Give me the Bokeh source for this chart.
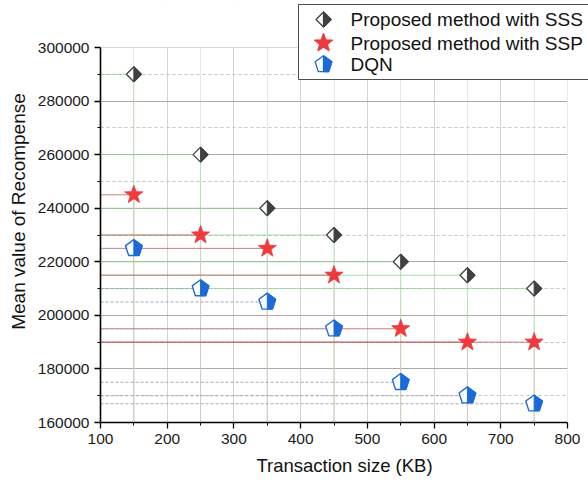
import math
from bokeh.plotting import figure
from bokeh.models import (Range1d, SingleIntervalTicker, NumeralTickFormatter,
                          BoxAnnotation, Label, PolyAnnotation)
from bokeh.embed import file_html
from bokeh.resources import INLINE

# ---------------- data ----------------
sizes_kb = [150, 250, 350, 450, 550, 650, 750]
sss = [290000, 260000, 240000, 230000, 220000, 215000, 210000]
ssp = [245000, 230000, 225000, 215000, 195000, 190000, 190000]
dqn = [225000, 210000, 205000, 195000, 175000, 170000, 167000]
series_labels = ["Proposed method with SSS", "Proposed method with SSP", "DQN"]
x_label = "Transaction size (KB)"
y_label = "Mean value of Recompense"

X0, X1 = 100, 800
Y0, Y1 = 160000, 300000
AXW, AXH = 467, 375            # pixel length of the drawn axes
PX_X = (X1 - X0) / AXW         # data units per pixel
PX_Y = (Y1 - Y0) / AXH
EXTRA_R, EXTRA_T = 21, 47      # frame extends beyond the axes (room for the legend)
FW, FH = AXW + EXTRA_R, AXH + EXTRA_T

FONT = "Liberation Sans"
GRAY = "#404040"
RED = "#ee3a3d"
BLUE = "#1c6ad8"

# marker shapes in pixels (y up)
def diamond(hw=7.5, hh=7.5):
    return [(0, hh), (hw, 0), (0, -hh), (-hw, 0)], [(0, hh), (hw, 0), (0, -hh)]

def pentagon(R=8.8):
    pts = [(R * math.cos(math.radians(90 - 72 * k)), R * math.sin(math.radians(90 - 72 * k))) for k in range(5)]
    right = [pts[0], pts[1], pts[2], (0, pts[2][1])]
    return pts, right

def star(R=9.6, r=3.9):
    pts = []
    for k in range(10):
        rad = R if k % 2 == 0 else r
        a = math.radians(90 - 36 * k)
        pts.append((rad * math.cos(a), rad * math.sin(a)))
    return pts

def to_data(shape, xs, ys):
    return ([[x + dx * PX_X for dx, dy in shape] for x in xs],
            [[y + dy * PX_Y for dx, dy in shape] for y in ys])

p = figure(frame_width=FW, frame_height=FH,
           x_range=Range1d(X0, X1 + EXTRA_R * PX_X),
           y_range=Range1d(Y0, Y1 + EXTRA_T * PX_Y),
           output_backend="svg", toolbar_location=None,
           min_border_left=100, min_border_top=0,
           min_border_right=0, min_border_bottom=63)
p.outline_line_color = None
p.background_fill_color = "white"
p.border_fill_color = "white"

xt = SingleIntervalTicker(interval=100, num_minor_ticks=2)
yt = SingleIntervalTicker(interval=20000, num_minor_ticks=2)
p.xaxis.ticker = xt
p.yaxis.ticker = yt
p.xgrid.ticker = xt
p.ygrid.ticker = yt
p.xaxis.bounds = (X0, X1)
p.yaxis.bounds = (Y0, Y1)
p.yaxis.formatter = NumeralTickFormatter(format="0")

p.xgrid.grid_line_color = "#d4d4d4"
p.xgrid.minor_grid_line_color = "#e6e6e6"
p.ygrid.grid_line_color = "#aaaaaa"
p.ygrid.minor_grid_line_color = "#c4c4c4"
p.ygrid.minor_grid_line_dash = "3 3"

for ax in (p.xaxis, p.yaxis):
    ax.axis_line_color = "black"
    ax.axis_line_width = 1.6
    ax.major_tick_line_color = "black"
    ax.minor_tick_line_color = "black"
    ax.major_tick_line_width = 1.3
    ax.minor_tick_line_width = 1.0
    ax.major_tick_out = 6
    ax.major_tick_in = 0
    ax.minor_tick_out = 3
    ax.minor_tick_in = 0
    ax.major_label_text_font = FONT
    ax.major_label_text_font_size = "15.5px"
    ax.major_label_text_color = "#1a1a1a"
    ax.axis_label_text_font = FONT
    ax.axis_label_text_font_style = "normal"
    ax.axis_label_text_color = "#111111"
p.xaxis.axis_label = x_label
p.yaxis.axis_label = y_label
p.xaxis.axis_label_text_font_size = "18.5px"
p.yaxis.axis_label_text_font_size = "19px"
p.xaxis.major_label_standoff = 5
p.yaxis.major_label_standoff = 5
p.xaxis.axis_label_standoff = 8
p.yaxis.axis_label_standoff = 6

# ---------------- drop lines ----------------
n = len(sizes_kb)
p.segment(x0=sizes_kb, y0=sss, x1=sizes_kb, y1=[Y0] * n, line_color="#a6dea6", line_width=1, line_alpha=0.75)
p.segment(x0=[X0] * n, y0=sss, x1=sizes_kb, y1=sss, line_color="#8fd58f", line_width=1, line_alpha=0.8)
p.segment(x0=sizes_kb, y0=ssp, x1=sizes_kb, y1=[Y0] * n, line_color="#ecc0c2", line_width=1, line_alpha=0.7)
p.segment(x0=[X0] * n, y0=ssp, x1=sizes_kb, y1=ssp, line_color="#b8474c", line_width=1, line_alpha=0.7)
p.segment(x0=[X0] * n, y0=dqn, x1=sizes_kb, y1=dqn, line_color="#a0a8bf", line_width=1, line_dash="3 2")

# ---------------- markers ----------------
d_full, d_half = diamond()
pg_full, pg_half = pentagon()
st = star()

xs, ys = to_data(d_full, sizes_kb, sss)
p.patches(xs, ys, fill_color="white", line_color=GRAY, line_width=1.3)
xs, ys = to_data(d_half, sizes_kb, sss)
p.patches(xs, ys, fill_color=GRAY, line_color=GRAY, line_width=1.0)

xs, ys = to_data(st, sizes_kb, ssp)
p.patches(xs, ys, fill_color=RED, line_color=RED, line_width=0.8)

xs, ys = to_data(pg_full, sizes_kb, dqn)
p.patches(xs, ys, fill_color="white", line_color=BLUE, line_width=1.4)
xs, ys = to_data(pg_half, sizes_kb, dqn)
p.patches(xs, ys, fill_color=BLUE, line_color=BLUE, line_width=1.0)

# blank the frame outside the axes' extent
p.add_layout(BoxAnnotation(bottom=Y1, fill_color="white", fill_alpha=1.0, line_color=None))
p.add_layout(BoxAnnotation(left=X1, fill_color="white", fill_alpha=1.0, line_color=None))

# ---------------- legend (screen units, frame-relative) ----------------
p.add_layout(BoxAnnotation(left=198, right=520, top=418, bottom=343,
                           left_units="screen", right_units="screen",
                           top_units="screen", bottom_units="screen",
                           fill_color="white", fill_alpha=1.0,
                           line_color="#4d4d4d", line_width=1, line_alpha=1.0))
rows_y = [403, 379.5, 358]
mx = 223
legend_shapes = [
    [(d_full, "white", GRAY), (d_half, GRAY, GRAY)],
    [(st, RED, RED)],
    [(pg_full, "white", BLUE), (pg_half, BLUE, BLUE)],
]
for label, yy, shapes in zip(series_labels, rows_y, legend_shapes):
    for shape, fc, lc in shapes:
        p.add_layout(PolyAnnotation(xs=[mx + dx for dx, dy in shape], ys=[yy + dy for dx, dy in shape],
                                    xs_units="screen", ys_units="screen",
                                    fill_color=fc, fill_alpha=1.0, line_color=lc, line_width=1.3, line_alpha=1.0))
    p.add_layout(Label(x=250, y=yy, x_units="screen", y_units="screen", text=label,
                       text_font=FONT, text_font_size="19px", text_baseline="middle",
                       text_color="#111111"))

open("out.html", "w").write(file_html(p, INLINE))
